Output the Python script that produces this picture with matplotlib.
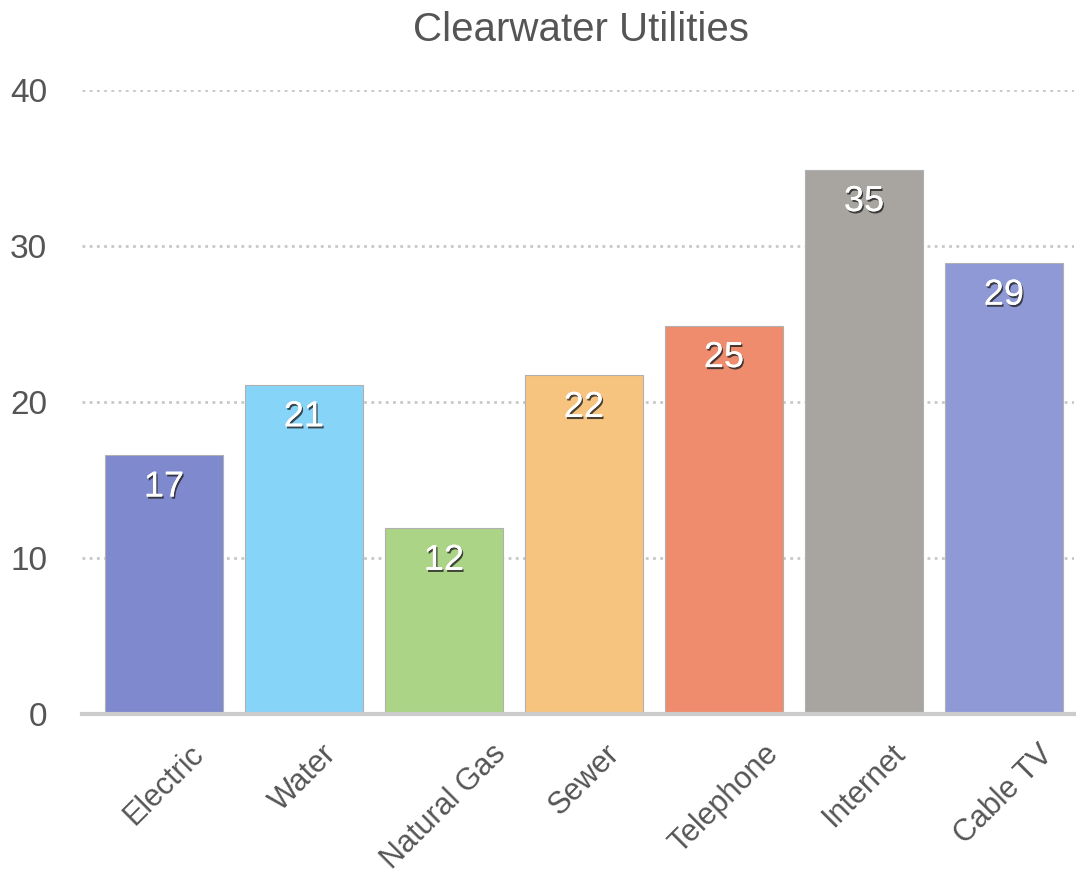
import matplotlib.pyplot as plt
import matplotlib.patheffects as pe
import numpy as np

plt.rcParams['font.family'] = ['Liberation Sans', 'DejaVu Sans']

labels = ["Electric", "Water", "Natural Gas", "Sewer", "Telephone", "Internet", "Cable TV"]
values = [16.6, 21.1, 11.9, 21.7, 24.9, 34.9, 28.9]
colors = ["#7F89CE", "#87D4F9", "#ABD486", "#F6C47F", "#F08C6E", "#A8A5A0", "#8F99D6"]

fig = plt.figure(figsize=(10.76, 8.77), dpi=100)
ax = fig.add_axes([82/1076, 1 - 714/877, 992/1076, 624/877])

x = np.arange(len(labels))
bars = ax.bar(x, values, width=0.84, color=colors, edgecolor="#b0b0b0", linewidth=0.8, zorder=3)

for b, v in zip(bars, values):
    t = ax.annotate(f"{round(v):.0f}", (b.get_x() + b.get_width()/2, v),
                    xytext=(0, -32), textcoords="offset pixels",
                    ha="center", va="center", fontsize=26, color="white", zorder=4)
    t.set_path_effects([pe.withSimplePatchShadow(offset=(1, -1.5), shadow_rgbFace="#222222", alpha=0.8), pe.Normal()])

ax.set_xlim(-0.586, 6.5)
ax.set_ylim(0, 40)
ax.set_yticks([0, 10, 20, 30, 40])
ax.set_xticks(x)
ax.set_xticklabels(labels, rotation=45, ha="center", va="top", fontsize=22, color="#555555")
ax.tick_params(axis="y", length=0, pad=25, labelsize=24, labelcolor="#555555")
ax.tick_params(axis="x", length=0, pad=18)
for lab in ax.get_yticklabels():
    lab.set_horizontalalignment("right")

ax.yaxis.grid(True, linestyle=(0, (1, 1.6)), color="#c8c8c8", linewidth=2, zorder=0)
for s in ["top", "right", "left"]:
    ax.spines[s].set_visible(False)
ax.spines["bottom"].set_color("#cccccc")
ax.spines["bottom"].set_linewidth(3)
ax.spines["bottom"].set_zorder(5)

fig.text(581/1076, 1 - 30/877, "Clearwater Utilities", ha="center", va="center", fontsize=29, color="#555555")

fig.savefig("out.png", dpi=100)
